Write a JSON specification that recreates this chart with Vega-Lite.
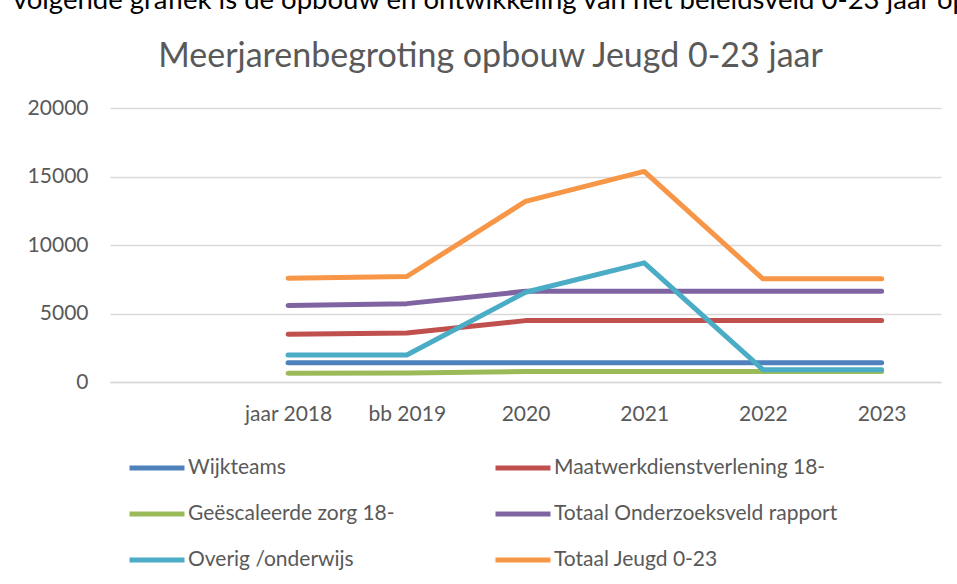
{
  "$schema": "https://vega.github.io/schema/vega-lite/v6.json",
  "width": 831,
  "height": 274,
  "autosize": {"type": "none"},
  "padding": {"left": 110, "top": 108, "right": 16, "bottom": 202},
  "background": "white",
  "title": {
    "text": "volgende grafiek is de opbouw en ontwikkeling van het beleidsveld 0-23 jaar op",
    "subtitle": "Meerjarenbegroting opbouw Jeugd 0-23 jaar",
    "anchor": "middle",
    "frame": "group",
    "dx": -35,
    "font": "Lato",
    "fontSize": 27.5,
    "fontWeight": "normal",
    "color": "#000000",
    "subtitleFont": "Lato",
    "subtitleFontSize": 34,
    "subtitleColor": "#595959",
    "subtitlePadding": 26,
    "offset": 23
  },
  "data": {
    "values": [
      {"year": "jaar 2018", "series": "Wijkteams", "value": 1410},
      {"year": "bb 2019", "series": "Wijkteams", "value": 1410},
      {"year": "2020", "series": "Wijkteams", "value": 1400},
      {"year": "2021", "series": "Wijkteams", "value": 1400},
      {"year": "2022", "series": "Wijkteams", "value": 1400},
      {"year": "2023", "series": "Wijkteams", "value": 1400},
      {"year": "jaar 2018", "series": "Maatwerkdienstverlening 18-", "value": 3480},
      {"year": "bb 2019", "series": "Maatwerkdienstverlening 18-", "value": 3580},
      {"year": "2020", "series": "Maatwerkdienstverlening 18-", "value": 4480},
      {"year": "2021", "series": "Maatwerkdienstverlening 18-", "value": 4480},
      {"year": "2022", "series": "Maatwerkdienstverlening 18-", "value": 4480},
      {"year": "2023", "series": "Maatwerkdienstverlening 18-", "value": 4480},
      {"year": "jaar 2018", "series": "Geëscaleerde zorg 18-", "value": 630},
      {"year": "bb 2019", "series": "Geëscaleerde zorg 18-", "value": 650},
      {"year": "2020", "series": "Geëscaleerde zorg 18-", "value": 770},
      {"year": "2021", "series": "Geëscaleerde zorg 18-", "value": 770},
      {"year": "2022", "series": "Geëscaleerde zorg 18-", "value": 770},
      {"year": "2023", "series": "Geëscaleerde zorg 18-", "value": 770},
      {"year": "jaar 2018", "series": "Totaal Onderzoeksveld rapport", "value": 5580},
      {"year": "bb 2019", "series": "Totaal Onderzoeksveld rapport", "value": 5720},
      {"year": "2020", "series": "Totaal Onderzoeksveld rapport", "value": 6620},
      {"year": "2021", "series": "Totaal Onderzoeksveld rapport", "value": 6620},
      {"year": "2022", "series": "Totaal Onderzoeksveld rapport", "value": 6620},
      {"year": "2023", "series": "Totaal Onderzoeksveld rapport", "value": 6620},
      {"year": "jaar 2018", "series": "Overig /onderwijs", "value": 1970},
      {"year": "bb 2019", "series": "Overig /onderwijs", "value": 1970},
      {"year": "2020", "series": "Overig /onderwijs", "value": 6550},
      {"year": "2021", "series": "Overig /onderwijs", "value": 8700},
      {"year": "2022", "series": "Overig /onderwijs", "value": 900},
      {"year": "2023", "series": "Overig /onderwijs", "value": 900},
      {"year": "jaar 2018", "series": "Totaal Jeugd 0-23", "value": 7580},
      {"year": "bb 2019", "series": "Totaal Jeugd 0-23", "value": 7700},
      {"year": "2020", "series": "Totaal Jeugd 0-23", "value": 13180},
      {"year": "2021", "series": "Totaal Jeugd 0-23", "value": 15370},
      {"year": "2022", "series": "Totaal Jeugd 0-23", "value": 7530},
      {"year": "2023", "series": "Totaal Jeugd 0-23", "value": 7530}
    ]
  },
  "mark": {"type": "line", "strokeWidth": 5, "strokeCap": "round", "strokeJoin": "round"},
  "encoding": {
    "x": {
      "field": "year",
      "type": "nominal",
      "sort": null,
      "scale": {"domain": [" ", "jaar 2018", "bb 2019", "2020", "2021", "2022", "2023"]},
      "axis": {
        "title": null,
        "labelAngle": 0,
        "ticks": false,
        "domainColor": "#d9d9d9",
        "domainWidth": 1.3,
        "labelFont": "Lato",
        "labelFontSize": 21,
        "labelColor": "#595959",
        "labelPadding": 21
      }
    },
    "y": {
      "field": "value",
      "type": "quantitative",
      "scale": {"domain": [0, 20000]},
      "axis": {
        "title": null,
        "values": [0, 5000, 10000, 15000, 20000],
        "format": "d",
        "domain": false,
        "ticks": false,
        "gridColor": "#d9d9d9",
        "gridWidth": 1.3,
        "labelFont": "Lato",
        "labelFontSize": 21,
        "labelColor": "#595959",
        "labelPadding": 22
      }
    },
    "color": {
      "field": "series",
      "type": "nominal",
      "scale": {
        "domain": ["Wijkteams", "Maatwerkdienstverlening 18-", "Geëscaleerde zorg 18-", "Totaal Onderzoeksveld rapport", "Overig /onderwijs", "Totaal Jeugd 0-23"],
        "range": ["#4F81BD", "#C0504D", "#9BBB59", "#8064A2", "#4BACC6", "#F79646"]
      },
      "legend": {
        "title": null,
        "orient": "none",
        "direction": "horizontal",
        "legendX": 17,
        "legendY": 330,
        "columns": 2,
        "columnPadding": 90,
        "rowPadding": 6,
        "symbolType": "stroke",
        "symbolSize": 3025,
        "symbolStrokeWidth": 5,
        "labelOffset": 1,
        "labelFont": "Lato",
        "labelFontSize": 21,
        "labelColor": "#595959",
        "labelLimit": 400
      }
    }
  },
  "config": {"view": {"stroke": null}}
}
